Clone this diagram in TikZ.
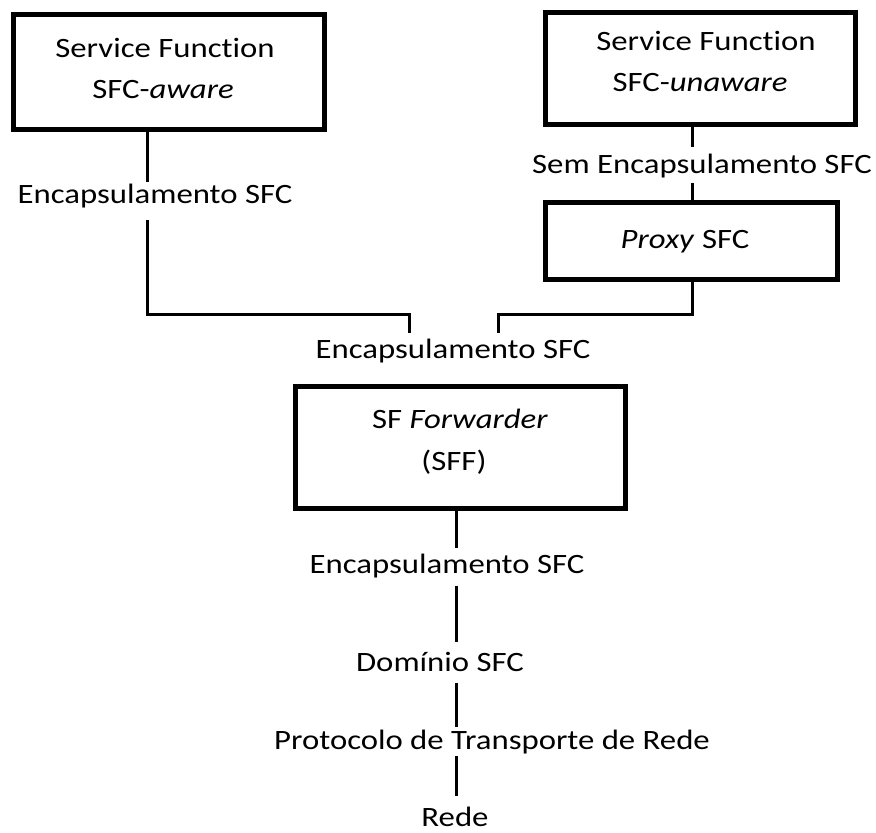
\documentclass[tikz,border=0pt]{standalone}
\usepackage{fontspec}
\setmainfont{Carlito}[FakeStretch=1.17, Ligatures={NoCommon,NoContextual}, Contextuals={NoAlternate}]
\begin{document}
\begin{tikzpicture}[x=1pt,y=-1pt,
  box/.style={draw, line width=5pt, inner sep=0pt, outer sep=0pt},
  txt/.style={inner sep=0pt, outer sep=0pt, anchor=base, text height=18.5pt, text depth=6pt, font=\fontsize{28}{34}\selectfont},
  conn/.style={line width=3pt}]
\useasboundingbox (0,0) rectangle (876,833);

% boxes
\node[box, minimum width=311pt, minimum height=115pt] (A) at (168.6,71.7) {};
\node[box, minimum width=310pt, minimum height=112pt] (B) at (700.5,68.5) {};
\node[box, minimum width=292pt, minimum height=76.5pt] (P) at (691.5,240.75) {};
\node[box, minimum width=330pt, minimum height=121.8pt] (F) at (460,447.4) {};

% box texts
\node[txt] (A1) at (165,57) {Service Function};
\node[txt] (A2) at (163,98) {SFC-\textit{aware}};
\node[txt] (B1) at (706,50) {Service Function};
\node[txt] (B2) at (700,91) {SFC-\textit{unaware}};
\node[txt] (P1) at (685,248) {\textit{Proxy} SFC};
\node[txt] (F1) at (460,428) {SF \textit{Forwarder}};
\node[txt] (F2) at (454,470) {(SFF)};

% labels
\node[txt] (l1) at (155,203) {Encapsulamento SFC};
\node[txt] (l2) at (702,173) {Sem Encapsulamento SFC};
\node[txt] (l3) at (453,358) {Encapsulamento SFC};
\node[txt] (l4) at (447,573) {Encapsulamento SFC};
\node[txt] (l5) at (440,671) {Domínio SFC};
\node[txt] (l6) at (492,749) {Protocolo de Transporte de Rede};
\node[txt, text depth=1pt] (l7) at (455,826) {Rede};

% bend / column coordinates
\coordinate (jA) at (147,314);
\coordinate (jB) at (409,314);
\coordinate (jC) at (692,314);
\coordinate (jD) at (498,314);
\coordinate (xE) at (456,600);

% connectors
\draw[conn, shorten >=2.5pt] (A.south -| jA) -- (l1.north -| jA);
\draw[conn, shorten <=11pt, shorten >=6.5pt] (l1.south -| jA) -- (jA) -- (jB) -- (l3.north -| jB);
\draw[conn, shorten >=7.5pt] (B.south -| jC) -- (l2.north -| jC);
\draw[conn, shorten <=4pt] (l2.south -| jC) -- (P.north -| jC);
\draw[conn, shorten >=6.5pt] (P.south -| jC) -- (jC) -- (jD) -- (l3.north -| jD);
\draw[conn, shorten >=6.5pt] (F.south -| xE) -- (l4.north -| xE);
\draw[conn, shorten <=7pt, shorten >=10.5pt] (l4.south -| xE) -- (l5.north -| xE);
\draw[conn, shorten <=6pt, shorten >=3.5pt] (l5.south -| xE) -- (l6.north -| xE);
\draw[conn, shorten <=1pt, shorten >=11.5pt] (l6.south -| xE) -- (l7.north -| xE);
\end{tikzpicture}
\end{document}
